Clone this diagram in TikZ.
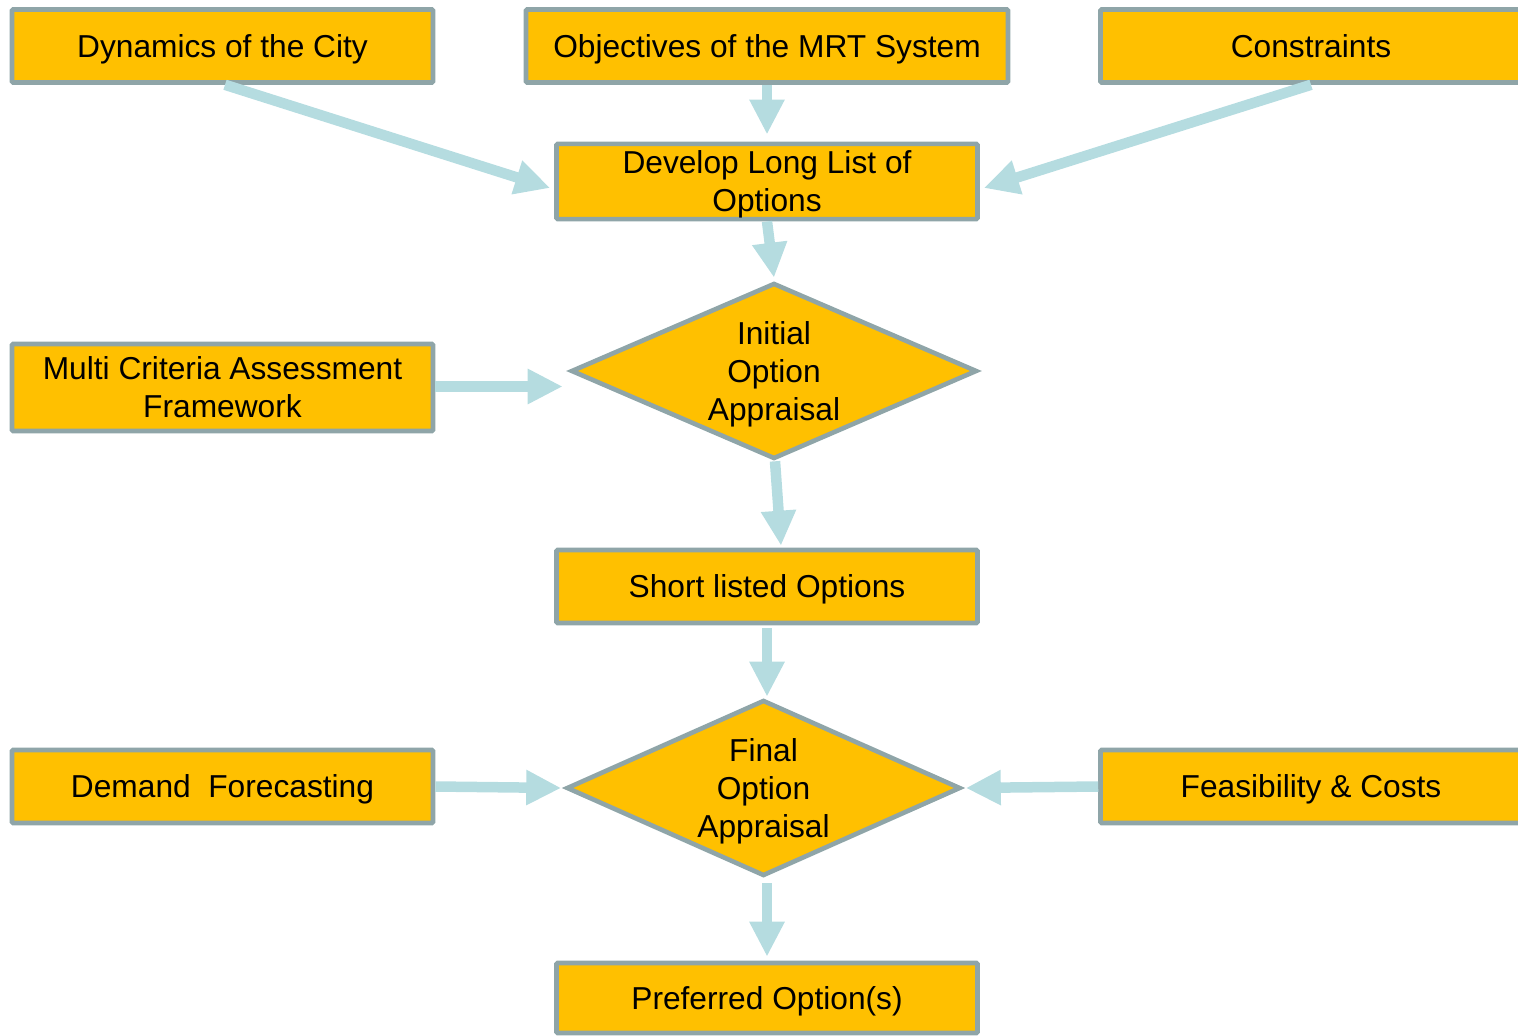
\documentclass[tikz,border=0pt]{standalone}
\usepackage{fontspec}
\setmainfont{Liberation Sans}
\usetikzlibrary{shapes.geometric,arrows.meta,calc}
\definecolor{boxfill}{HTML}{FFC000}
\definecolor{boxline}{HTML}{8FA5A8}
\definecolor{arrowc}{HTML}{B5DCE0}
\newcommand\mystr{\rule[-3.66pt]{0pt}{18.66pt}}
\begin{document}
\begin{tikzpicture}[x=0.5pt,y=-0.5pt,
  every node/.style={font=\fontsize{15.85pt}{19pt}\selectfont, text=black},
  box/.style={draw=boxline, fill=boxfill, line width=2.3pt, rectangle, inner sep=0pt,
     minimum width=210.5pt, minimum height=36.5pt, align=center, rounded corners=0.6pt},
  dia/.style={draw=boxline, fill=boxfill, line width=2.3pt, diamond, inner sep=0pt,
     align=center, aspect=2.28},
  flow/.style={draw=arrowc, line width=5.25pt, -{Triangle[length=17.5pt,width=16.5pt]}}]
\useasboundingbox (0,0) rectangle (1518,1036);
\clip (0,0) rectangle (1518,1036);
% boxes
\node[box] (dyn) at (222.5,46) {\mystr Dynamics of the City};
\node[box, minimum width=241pt] (obj) at (767,46) {\mystr Objectives of the MRT System};
\node[box] (con) at (1311,46) {\mystr Constraints};
\node[box] (dev) at (767,181.5) {\mystr Develop Long List of\\\mystr Options};
\node[dia, minimum width=203pt, minimum height=88pt] (ini) at (774,371) {\mystr Initial\\\mystr Option\\\mystr Appraisal};
\node[box, minimum height=43.5pt] (mca) at (222.5,387.5) {\mystr Multi Criteria Assessment\\\mystr Framework};
\node[box] (sho) at (767,586.5) {\mystr Short listed Options};
\node[dia, minimum width=197pt, minimum height=88pt] (fin) at (763.5,788) {\mystr Final\\\mystr Option\\\mystr Appraisal};
\node[box] (dem) at (222.5,786.5) {\mystr Demand\ \ Forecasting};
\node[box] (fea) at (1311,786.5) {\mystr Feasibility \& Costs};
\node[box, minimum height=35pt] (pre) at (767,998) {\mystr Preferred Option(s)};
% connectors
\draw[flow] ($(dyn.south)+(2.5,0)$) -- ($(dev.west)+(-4,6.5)$);
\draw[flow] (obj.south) -- ($(dev.north)+(0,-7)$);
\draw[flow] (con.south) -- ($(dev.east)+(4,6.5)$);
\draw[flow] (dev.south) -- ($(ini.north)+(0,-3)$);
\draw[flow] ($(mca.east)+(0,-1)$) -- ($(mca.east -| ini.west)+(-6,-1)$);
\draw[flow] ($(ini.south)+(1,0)$) -- ($(sho.north)+(14,-2)$);
\draw[flow] ($(sho.south)+(0,3)$) -- ($(fin.north -| sho.south)+(0,-1)$);
\draw[flow] (dem.east) -- ($(fin.west)+(-3,0)$);
\draw[flow] (fea.west) -- ($(fin.east)+(3,0)$);
\draw[flow] ($(fin.south -| pre.north)+(0,5)$) -- ($(pre.north)+(0,-4)$);
\end{tikzpicture}
\end{document}
